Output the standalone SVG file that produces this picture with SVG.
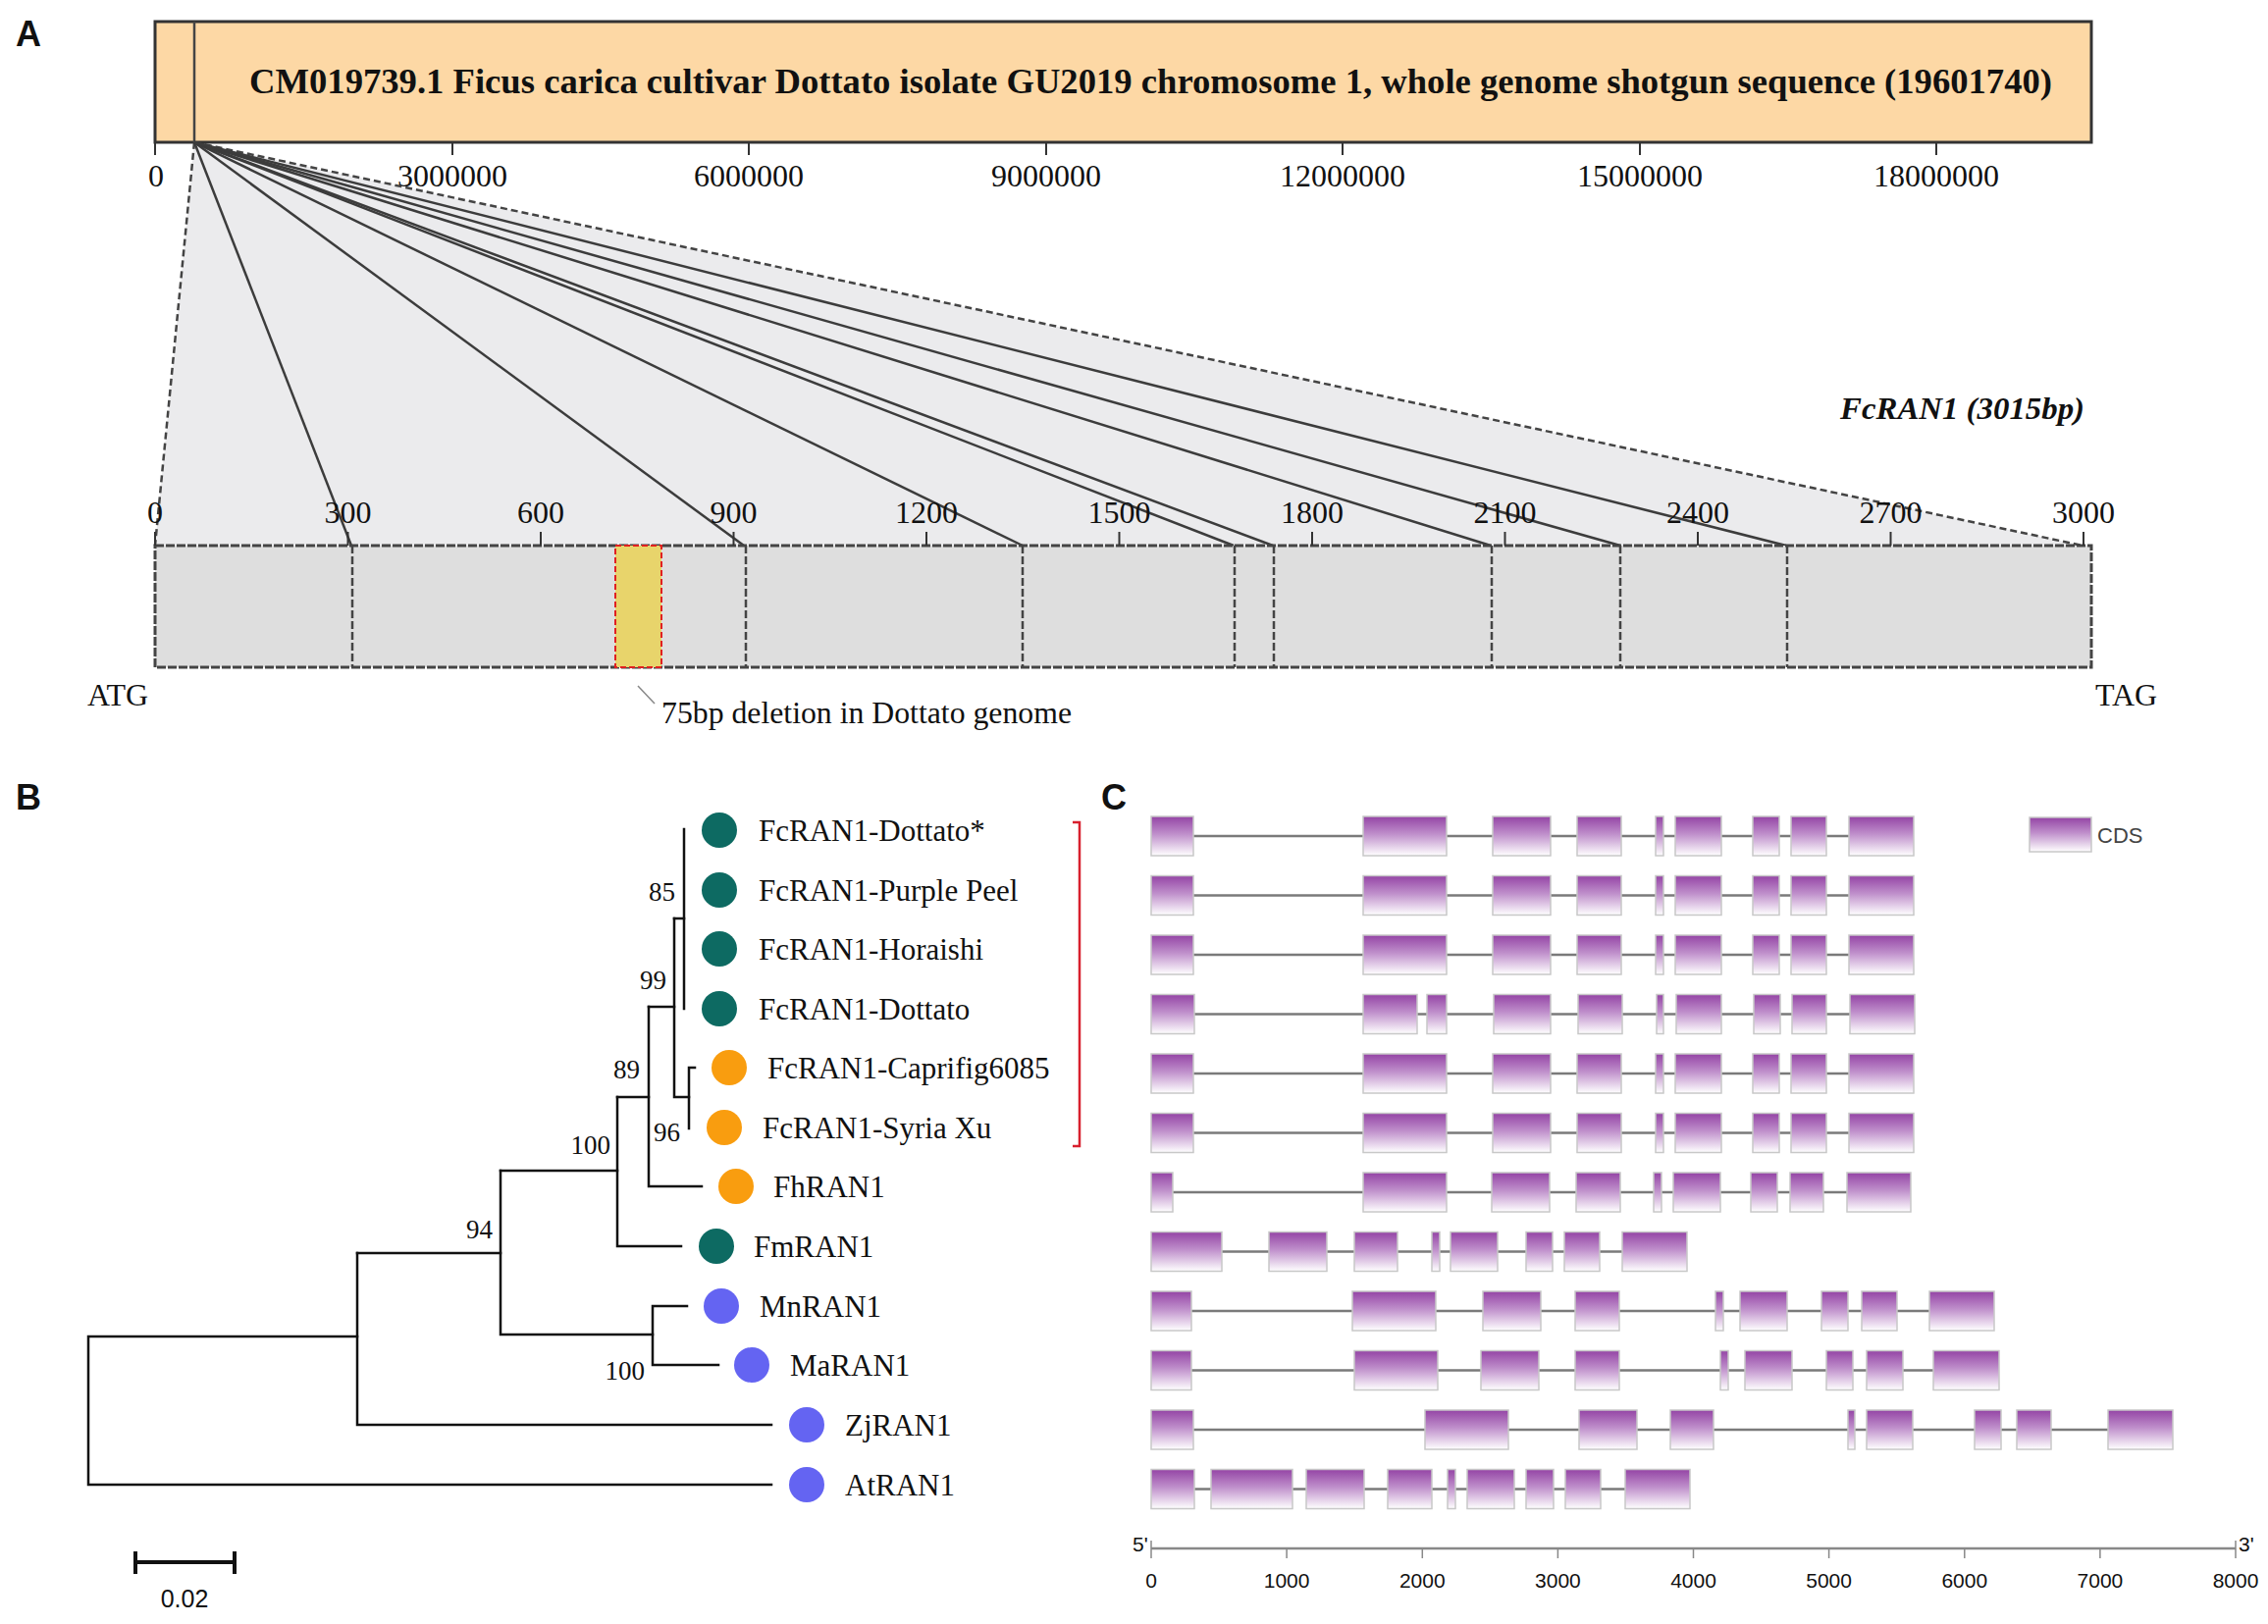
<svg xmlns="http://www.w3.org/2000/svg" width="2311" height="1655" viewBox="0 0 2311 1655">
<style>
.serif{font-family:"Liberation Serif","Times New Roman",serif;fill:#111}
.sans{font-family:"Liberation Sans",Arial,sans-serif}
.panel{font-family:"Liberation Sans",Arial,sans-serif;font-weight:bold;font-size:36px;fill:#111}
.tick{stroke:#333;stroke-width:2}
.fan{stroke:#3c3c3c;stroke-width:2.5;fill:none}
.fandash{stroke:#444;stroke-width:2.5;fill:none;stroke-dasharray:7 4}
.div{stroke:#444;stroke-width:2.5;stroke-dasharray:8 3}
.br{stroke:#111;stroke-width:2.5;fill:none;stroke-linecap:square}
.boot{font-size:27px}
.leaf{font-size:31px}
.teal{fill:#0d6a62}
.orange{fill:#f99d0f}
.blue{fill:#6464f2}
.exon{fill:url(#exg);stroke:#c8c8c8;stroke-width:1.5}
.intron{stroke:#7a7a7a;stroke-width:2.5}
.ax{font-size:21px;fill:#111;text-anchor:middle}
</style>
<defs>
<linearGradient id="exg" x1="0" y1="0" x2="0" y2="1">
<stop offset="0" stop-color="#9444a5"/>
<stop offset="0.45" stop-color="#bf8fcb"/>
<stop offset="1" stop-color="#ffffff"/>
</linearGradient>
<g id="rowA">
<line class="intron" x1="1173" y1="0" x2="1950" y2="0"/>
<rect class="exon" x="1173" y="-20" width="43" height="40"/>
<rect class="exon" x="1389" y="-20" width="85" height="40"/>
<rect class="exon" x="1521" y="-20" width="59" height="40"/>
<rect class="exon" x="1607" y="-20" width="45" height="40"/>
<rect class="exon" x="1687" y="-20" width="8" height="40"/>
<rect class="exon" x="1707" y="-20" width="47" height="40"/>
<rect class="exon" x="1786" y="-20" width="27" height="40"/>
<rect class="exon" x="1825" y="-20" width="36" height="40"/>
<rect class="exon" x="1884" y="-20" width="66" height="40"/>
</g>
</defs>
<rect width="2311" height="1655" fill="#ffffff"/>

<!-- Panel A -->
<text class="panel" x="16" y="47">A</text>
<g id="chromosome">
<rect x="158" y="22" width="1973" height="123" fill="#fdd8a5" stroke="#333" stroke-width="3"/>
<line x1="198" y1="22" x2="198" y2="145" stroke="#444" stroke-width="2.5"/>
<text class="serif" x="254" y="95" font-size="36" font-weight="bold" textLength="1837" lengthAdjust="spacingAndGlyphs">CM019739.1 Ficus carica cultivar Dottato isolate GU2019 chromosome 1, whole genome shotgun sequence (19601740)</text>
</g>
<g id="chrom-axis">
<line class="tick" x1="158" y1="145" x2="158" y2="158"/>
<line class="tick" x1="461" y1="145" x2="461" y2="158"/>
<line class="tick" x1="763" y1="145" x2="763" y2="158"/>
<line class="tick" x1="1066" y1="145" x2="1066" y2="158"/>
<line class="tick" x1="1368" y1="145" x2="1368" y2="158"/>
<line class="tick" x1="1671" y1="145" x2="1671" y2="158"/>
<line class="tick" x1="1973" y1="145" x2="1973" y2="158"/>
<g class="serif" font-size="32" text-anchor="middle">
<text x="159" y="190">0</text>
<text x="461" y="190">3000000</text>
<text x="763" y="190">6000000</text>
<text x="1066" y="190">9000000</text>
<text x="1368" y="190">12000000</text>
<text x="1671" y="190">15000000</text>
<text x="1973" y="190">18000000</text>
</g>
</g>
<g id="fan-connectors">
<polygon points="198,145 158,556 2122,556" fill="#ebebed"/>
<line class="fandash" x1="198" y1="145" x2="158" y2="556"/>
<line class="fandash" x1="198" y1="145" x2="2122" y2="556"/>
<line class="fan" x1="198" y1="145" x2="358" y2="556"/>
<line class="fan" x1="198" y1="145" x2="758" y2="556"/>
<line class="fan" x1="198" y1="145" x2="1042" y2="556"/>
<line class="fan" x1="198" y1="145" x2="1257" y2="556"/>
<line class="fan" x1="198" y1="145" x2="1297" y2="556"/>
<line class="fan" x1="198" y1="145" x2="1519" y2="556"/>
<line class="fan" x1="198" y1="145" x2="1651" y2="556"/>
<line class="fan" x1="198" y1="145" x2="1820" y2="556"/>
</g>
<g id="gene-box">
<rect x="158" y="556" width="1973" height="124" fill="#dedede" stroke="#444" stroke-width="3" stroke-dasharray="9 2"/>
<rect x="627" y="556" width="47" height="124" fill="#e8d46b" stroke="#e02020" stroke-width="2" stroke-dasharray="6 3"/>
<line class="div" x1="359" y1="556" x2="359" y2="680"/>
<line class="div" x1="760" y1="556" x2="760" y2="680"/>
<line class="div" x1="1042" y1="556" x2="1042" y2="680"/>
<line class="div" x1="1258" y1="556" x2="1258" y2="680"/>
<line class="div" x1="1298" y1="556" x2="1298" y2="680"/>
<line class="div" x1="1520" y1="556" x2="1520" y2="680"/>
<line class="div" x1="1651" y1="556" x2="1651" y2="680"/>
<line class="div" x1="1821" y1="556" x2="1821" y2="680"/>
</g>
<g id="gene-axis">
<line class="tick" x1="158" y1="542" x2="158" y2="556"/>
<line class="tick" x1="354.5" y1="542" x2="354.5" y2="556"/>
<line class="tick" x1="551" y1="542" x2="551" y2="556"/>
<line class="tick" x1="747.5" y1="542" x2="747.5" y2="556"/>
<line class="tick" x1="944" y1="542" x2="944" y2="556"/>
<line class="tick" x1="1140.5" y1="542" x2="1140.5" y2="556"/>
<line class="tick" x1="1337" y1="542" x2="1337" y2="556"/>
<line class="tick" x1="1533.5" y1="542" x2="1533.5" y2="556"/>
<line class="tick" x1="1730" y1="542" x2="1730" y2="556"/>
<line class="tick" x1="1926.5" y1="542" x2="1926.5" y2="556"/>
<line class="tick" x1="2123" y1="542" x2="2123" y2="556"/>
<g class="serif" font-size="32" text-anchor="middle">
<text x="158" y="533">0</text>
<text x="354.5" y="533">300</text>
<text x="551" y="533">600</text>
<text x="747.5" y="533">900</text>
<text x="944" y="533">1200</text>
<text x="1140.5" y="533">1500</text>
<text x="1337" y="533">1800</text>
<text x="1533.5" y="533">2100</text>
<text x="1730" y="533">2400</text>
<text x="1926.5" y="533">2700</text>
<text x="2123" y="533">3000</text>
</g>
</g>
<g id="gene-labels">
<text class="serif" x="1875" y="427" font-size="31" font-weight="bold" font-style="italic" textLength="249" lengthAdjust="spacingAndGlyphs">FcRAN1 (3015bp)</text>
<text class="serif" x="89" y="719" font-size="32">ATG</text>
<text class="serif" x="2135" y="719" font-size="32">TAG</text>
<line x1="650" y1="699" x2="667" y2="717" stroke="#888" stroke-width="1.5"/>
<text class="serif" x="674" y="737" font-size="31" textLength="418" lengthAdjust="spacingAndGlyphs">75bp deletion in Dottato genome</text>
</g>

<!-- Panel B -->
<text class="panel" x="16" y="825">B</text>
<g id="tree-connectors">
<path class="br" d="M786 1513 H90 V1362 H364"/>
<path class="br" d="M364 1277 V1452 H786"/>
<path class="br" d="M364 1277 H510"/>
<path class="br" d="M510 1193 V1360 H665"/>
<path class="br" d="M665 1331 V1391 M665 1331 H700 M665 1391 H732"/>
<path class="br" d="M510 1193 H629"/>
<path class="br" d="M629 1118 V1270 H694"/>
<path class="br" d="M629 1118 H661"/>
<path class="br" d="M661 1026 V1209 H715"/>
<path class="br" d="M661 1026 H687"/>
<path class="br" d="M687 936 V1118 H702"/>
<path class="br" d="M687 936 H697"/>
<path class="br" d="M697 845 V1028"/>
<path class="br" d="M702 1088 V1150 M702 1088 H708"/>
</g>
<g id="bootstrap" class="serif boot" text-anchor="end">
<text x="688" y="918">85</text>
<text x="679" y="1008">99</text>
<text x="652" y="1099">89</text>
<text x="693" y="1163">96</text>
<text x="622" y="1176">100</text>
<text x="502" y="1262">94</text>
<text x="657" y="1406">100</text>
</g>
<g id="leaf-FcRAN1-Dottato-star"><circle class="teal" cx="733" cy="846" r="18"/><text class="serif leaf" x="773" y="857">FcRAN1-Dottato*</text></g>
<g id="leaf-FcRAN1-Purple-Peel"><circle class="teal" cx="733" cy="907" r="18"/><text class="serif leaf" x="773" y="918">FcRAN1-Purple Peel</text></g>
<g id="leaf-FcRAN1-Horaishi"><circle class="teal" cx="733" cy="967" r="18"/><text class="serif leaf" x="773" y="978">FcRAN1-Horaishi</text></g>
<g id="leaf-FcRAN1-Dottato"><circle class="teal" cx="733" cy="1028" r="18"/><text class="serif leaf" x="773" y="1039">FcRAN1-Dottato</text></g>
<g id="leaf-FcRAN1-Caprifig6085"><circle class="orange" cx="743" cy="1088" r="18"/><text class="serif leaf" x="782" y="1099">FcRAN1-Caprifig6085</text></g>
<g id="leaf-FcRAN1-Syria-Xu"><circle class="orange" cx="738" cy="1149" r="18"/><text class="serif leaf" x="777" y="1160">FcRAN1-Syria Xu</text></g>
<g id="leaf-FhRAN1"><circle class="orange" cx="750" cy="1209" r="18"/><text class="serif leaf" x="788" y="1220">FhRAN1</text></g>
<g id="leaf-FmRAN1"><circle class="teal" cx="730" cy="1270" r="18"/><text class="serif leaf" x="768" y="1281">FmRAN1</text></g>
<g id="leaf-MnRAN1"><circle class="blue" cx="735" cy="1331" r="18"/><text class="serif leaf" x="774" y="1342">MnRAN1</text></g>
<g id="leaf-MaRAN1"><circle class="blue" cx="766" cy="1391" r="18"/><text class="serif leaf" x="805" y="1402">MaRAN1</text></g>
<g id="leaf-ZjRAN1"><circle class="blue" cx="822" cy="1452" r="18"/><text class="serif leaf" x="861" y="1463">ZjRAN1</text></g>
<g id="leaf-AtRAN1"><circle class="blue" cx="822" cy="1513" r="18"/><text class="serif leaf" x="861" y="1524">AtRAN1</text></g>
<g id="scale-bar">
<path d="M138 1592 H239 M138 1581 V1604 M239 1581 V1604" stroke="#111" stroke-width="4" fill="none"/>
<text class="sans" x="188" y="1638" font-size="25" text-anchor="middle" fill="#111">0.02</text>
</g>
<path id="clade-bracket" d="M1093 838 H1100 V1168 H1093" stroke="#d8202e" stroke-width="2.5" fill="none"/>

<!-- Panel C -->
<text class="panel" x="1122" y="825">C</text>
<g id="gene-1"><use href="#rowA" transform="translate(0,852)"/></g>
<g id="gene-2"><use href="#rowA" transform="translate(0,912.5)"/></g>
<g id="gene-3"><use href="#rowA" transform="translate(0,973)"/></g>
<g id="gene-4" transform="translate(0,1033.5)">
<line class="intron" x1="1173" y1="0" x2="1951" y2="0"/>
<rect class="exon" x="1173" y="-20" width="44" height="40"/>
<rect class="exon" x="1389" y="-20" width="55" height="40"/>
<rect class="exon" x="1454" y="-20" width="20" height="40"/>
<rect class="exon" x="1522" y="-20" width="58" height="40"/>
<rect class="exon" x="1608" y="-20" width="45" height="40"/>
<rect class="exon" x="1688" y="-20" width="7" height="40"/>
<rect class="exon" x="1708" y="-20" width="46" height="40"/>
<rect class="exon" x="1787" y="-20" width="27" height="40"/>
<rect class="exon" x="1826" y="-20" width="35" height="40"/>
<rect class="exon" x="1885" y="-20" width="66" height="40"/>
</g>
<g id="gene-5"><use href="#rowA" transform="translate(0,1094)"/></g>
<g id="gene-6"><use href="#rowA" transform="translate(0,1154.5)"/></g>
<g id="gene-7" transform="translate(0,1215)">
<line class="intron" x1="1173" y1="0" x2="1947" y2="0"/>
<rect class="exon" x="1173" y="-20" width="22" height="40"/>
<rect class="exon" x="1389" y="-20" width="85" height="40"/>
<rect class="exon" x="1520" y="-20" width="59" height="40"/>
<rect class="exon" x="1606" y="-20" width="45" height="40"/>
<rect class="exon" x="1685" y="-20" width="8" height="40"/>
<rect class="exon" x="1705" y="-20" width="48" height="40"/>
<rect class="exon" x="1784" y="-20" width="27" height="40"/>
<rect class="exon" x="1824" y="-20" width="34" height="40"/>
<rect class="exon" x="1882" y="-20" width="65" height="40"/>
</g>
<g id="gene-8" transform="translate(0,1275.5)">
<line class="intron" x1="1173" y1="0" x2="1719" y2="0"/>
<rect class="exon" x="1173" y="-20" width="72" height="40"/>
<rect class="exon" x="1293" y="-20" width="59" height="40"/>
<rect class="exon" x="1380" y="-20" width="44" height="40"/>
<rect class="exon" x="1459" y="-20" width="8" height="40"/>
<rect class="exon" x="1478" y="-20" width="48" height="40"/>
<rect class="exon" x="1555" y="-20" width="27" height="40"/>
<rect class="exon" x="1594" y="-20" width="36" height="40"/>
<rect class="exon" x="1653" y="-20" width="66" height="40"/>
</g>
<g id="gene-9" transform="translate(0,1336)">
<line class="intron" x1="1173" y1="0" x2="2032" y2="0"/>
<rect class="exon" x="1173" y="-20" width="41" height="40"/>
<rect class="exon" x="1378" y="-20" width="85" height="40"/>
<rect class="exon" x="1511" y="-20" width="59" height="40"/>
<rect class="exon" x="1605" y="-20" width="45" height="40"/>
<rect class="exon" x="1748" y="-20" width="8" height="40"/>
<rect class="exon" x="1773" y="-20" width="48" height="40"/>
<rect class="exon" x="1856" y="-20" width="27" height="40"/>
<rect class="exon" x="1897" y="-20" width="36" height="40"/>
<rect class="exon" x="1966" y="-20" width="66" height="40"/>
</g>
<g id="gene-10" transform="translate(0,1396.5)">
<line class="intron" x1="1173" y1="0" x2="2037" y2="0"/>
<rect class="exon" x="1173" y="-20" width="41" height="40"/>
<rect class="exon" x="1380" y="-20" width="85" height="40"/>
<rect class="exon" x="1509" y="-20" width="59" height="40"/>
<rect class="exon" x="1605" y="-20" width="45" height="40"/>
<rect class="exon" x="1753" y="-20" width="8" height="40"/>
<rect class="exon" x="1778" y="-20" width="48" height="40"/>
<rect class="exon" x="1861" y="-20" width="27" height="40"/>
<rect class="exon" x="1902" y="-20" width="37" height="40"/>
<rect class="exon" x="1970" y="-20" width="67" height="40"/>
</g>
<g id="gene-11" transform="translate(0,1457)">
<line class="intron" x1="1173" y1="0" x2="2214" y2="0"/>
<rect class="exon" x="1173" y="-20" width="43" height="40"/>
<rect class="exon" x="1452" y="-20" width="85" height="40"/>
<rect class="exon" x="1609" y="-20" width="59" height="40"/>
<rect class="exon" x="1702" y="-20" width="44" height="40"/>
<rect class="exon" x="1883" y="-20" width="7" height="40"/>
<rect class="exon" x="1902" y="-20" width="47" height="40"/>
<rect class="exon" x="2012" y="-20" width="27" height="40"/>
<rect class="exon" x="2055" y="-20" width="35" height="40"/>
<rect class="exon" x="2148" y="-20" width="66" height="40"/>
</g>
<g id="gene-12" transform="translate(0,1517.5)">
<line class="intron" x1="1173" y1="0" x2="1722" y2="0"/>
<rect class="exon" x="1173" y="-20" width="44" height="40"/>
<rect class="exon" x="1234" y="-20" width="83" height="40"/>
<rect class="exon" x="1331" y="-20" width="59" height="40"/>
<rect class="exon" x="1414" y="-20" width="45" height="40"/>
<rect class="exon" x="1475" y="-20" width="8" height="40"/>
<rect class="exon" x="1495" y="-20" width="48" height="40"/>
<rect class="exon" x="1555" y="-20" width="28" height="40"/>
<rect class="exon" x="1595" y="-20" width="36" height="40"/>
<rect class="exon" x="1656" y="-20" width="66" height="40"/>
</g>
<g id="legend">
<rect class="exon" x="2068" y="833" width="63" height="35"/>
<text class="sans" x="2137" y="859" font-size="22" fill="#444">CDS</text>
</g>
<g id="bp-axis">
<line x1="1173" y1="1578" x2="2278" y2="1578" stroke="#888" stroke-width="2.5"/>
<g stroke="#888" stroke-width="1.5">
<line x1="1173" y1="1570" x2="1173" y2="1588"/>
<line x1="1311.1" y1="1578" x2="1311.1" y2="1588"/>
<line x1="1449.3" y1="1578" x2="1449.3" y2="1588"/>
<line x1="1587.4" y1="1578" x2="1587.4" y2="1588"/>
<line x1="1725.5" y1="1578" x2="1725.5" y2="1588"/>
<line x1="1863.6" y1="1578" x2="1863.6" y2="1588"/>
<line x1="2001.8" y1="1578" x2="2001.8" y2="1588"/>
<line x1="2139.9" y1="1578" x2="2139.9" y2="1588"/>
<line x1="2278" y1="1570" x2="2278" y2="1588"/>
</g>
<g class="sans ax">
<text x="1173" y="1618">0</text>
<text x="1311.1" y="1618">1000</text>
<text x="1449.3" y="1618">2000</text>
<text x="1587.4" y="1618">3000</text>
<text x="1725.5" y="1618">4000</text>
<text x="1863.6" y="1618">5000</text>
<text x="2001.8" y="1618">6000</text>
<text x="2139.9" y="1618">7000</text>
<text x="2278" y="1618">8000</text>
</g>
<text class="sans" x="1154" y="1581" font-size="21" fill="#111">5'</text>
<text class="sans" x="2281" y="1581" font-size="21" fill="#111">3'</text>
</g>
</svg>
